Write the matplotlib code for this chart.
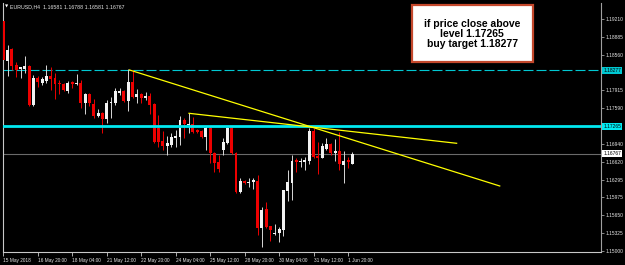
import matplotlib as mpl
mpl.use('Agg')
mpl.rcParams['font.family'] = ['Liberation Sans', 'DejaVu Sans']
import matplotlib.pyplot as plt
import matplotlib.transforms as mtransforms
from matplotlib.patches import Rectangle

# EURUSD H4 candles, 15 May 2018 12:00 -> 1 Jun 2018
opens = [1.19175, 1.18449, 1.18666, 1.18376, 1.18303, 1.18303, 1.18358, 1.17650, 1.18135, 1.18044,
         1.18086, 1.18176, 1.18145, 1.18049, 1.18031, 1.17904, 1.18062, 1.18031, 1.18055, 1.17681,
         1.17844, 1.17674, 1.17456, 1.17505, 1.17396, 1.17681, 1.17692, 1.17862, 1.17904, 1.17728,
         1.18073, 1.17790, 1.17844, 1.17782, 1.17819, 1.17663, 1.17227, 1.16997, 1.16911, 1.16924,
         1.17056, 1.17075, 1.17378, 1.17287, 1.17300, 1.17196, 1.17178, 1.17075, 1.17238, 1.16773,
         1.16610, 1.16833, 1.16955, 1.17238, 1.16773, 1.16076, 1.16271, 1.16229, 1.16258, 1.16276,
         1.15412, 1.15762, 1.15454, 1.15309, 1.15321, 1.15381, 1.16089, 1.16240, 1.16652, 1.16610,
         1.16621, 1.16634, 1.17178, 1.16724, 1.16693, 1.16851, 1.16937, 1.16773, 1.16815, 1.16561,
         1.16652, 1.16581]
highs = [1.19250, 1.18739, 1.18685, 1.18430, 1.18345, 1.18539, 1.18376, 1.18194, 1.18182, 1.18164,
         1.18376, 1.18345, 1.18236, 1.18104, 1.18044, 1.18086, 1.18086, 1.18213, 1.18104, 1.17873,
         1.17862, 1.17753, 1.17577, 1.17528, 1.17741, 1.17790, 1.17953, 1.17964, 1.17922, 1.18298,
         1.18285, 1.17940, 1.17862, 1.17880, 1.17862, 1.17681, 1.17468, 1.17178, 1.17087, 1.17136,
         1.17196, 1.17450, 1.17409, 1.17499, 1.17438, 1.17214, 1.17196, 1.17274, 1.17274, 1.16802,
         1.16742, 1.17046, 1.17256, 1.17256, 1.16802, 1.16320, 1.16289, 1.16320, 1.16320, 1.16379,
         1.15804, 1.15884, 1.15454, 1.15485, 1.15441, 1.16107, 1.16470, 1.16742, 1.16683, 1.16693,
         1.16712, 1.17238, 1.17227, 1.16984, 1.16955, 1.17046, 1.16955, 1.17027, 1.17165, 1.16820,
         1.16712, 1.16788]
lows = [1.18400, 1.18176, 1.18285, 1.18158, 1.18145, 1.18236, 1.17632, 1.17632, 1.17982, 1.18013,
        1.18044, 1.17922, 1.17753, 1.17844, 1.17904, 1.17868, 1.17964, 1.18013, 1.17601, 1.17487,
        1.17632, 1.17419, 1.17438, 1.17147, 1.17318, 1.17409, 1.17650, 1.17831, 1.17710, 1.17541,
        1.17772, 1.17681, 1.17681, 1.17741, 1.17487, 1.16955, 1.16893, 1.16833, 1.16742, 1.16893,
        1.16893, 1.16924, 1.17046, 1.17136, 1.17136, 1.17136, 1.17046, 1.16833, 1.16592, 1.16439,
        1.16439, 1.16742, 1.16937, 1.16761, 1.16047, 1.16047, 1.16216, 1.16167, 1.16125, 1.15290,
        1.15078, 1.15412, 1.15182, 1.15290, 1.15169, 1.15278, 1.15908, 1.15926, 1.16439, 1.16530,
        1.16470, 1.16574, 1.16693, 1.16398, 1.16683, 1.16833, 1.16742, 1.16634, 1.16470, 1.16240,
        1.16512, 1.16581]
closes = [1.18467, 1.18648, 1.18358, 1.18285, 1.18340, 1.18363, 1.17650, 1.18145, 1.18062, 1.18122,
          1.18182, 1.18122, 1.18031, 1.18026, 1.17917, 1.18055, 1.18037, 1.18049, 1.17692, 1.17844,
          1.17692, 1.17450, 1.17505, 1.17396, 1.17692, 1.17710, 1.17909, 1.17904, 1.17728, 1.18073,
          1.17790, 1.17844, 1.17772, 1.17819, 1.17650, 1.16973, 1.16984, 1.16911, 1.16966, 1.17064,
          1.17093, 1.17378, 1.17300, 1.17311, 1.17165, 1.17154, 1.17075, 1.17238, 1.16773, 1.16592,
          1.16488, 1.16973, 1.17238, 1.16773, 1.16076, 1.16276, 1.16229, 1.16258, 1.16289, 1.15412,
          1.15744, 1.15441, 1.15381, 1.15332, 1.15394, 1.16107, 1.16247, 1.16634, 1.16610, 1.16634,
          1.16652, 1.17178, 1.16712, 1.16693, 1.16906, 1.16937, 1.16773, 1.16815, 1.16574, 1.16639,
          1.16610, 1.16767]

time_pos = [0, 8, 16, 24, 32, 40, 48, 56, 64, 72, 80]
time_labels = ['15 May 2018', '16 May 20:00', '18 May 04:00', '21 May 12:00', '22 May 20:00',
               '24 May 04:00', '25 May 12:00', '28 May 20:00', '30 May 04:00', '31 May 12:00',
               '1 Jun 20:00']
price_ticks = [1.19210, 1.18885, 1.18560, 1.18235, 1.17915, 1.17590, 1.17265, 1.16940,
               1.16620, 1.16295, 1.15975, 1.15650, 1.15325, 1.15000]

target_level = 1.18277
break_level = 1.17265
last_price = closes[-1]

# trendlines (bar index, price)
trend1_x = [29.3, 115.2]
trend1_y = [1.18285, 1.16180]
trend2_x = [43.1, 105.2]
trend2_y = [1.17499, 1.16955]

fig = plt.figure(figsize=(6.25, 2.65), dpi=100, facecolor='black')
ax = fig.add_axes([3/625, 13/265, 598/625, 249/265], facecolor='black')

# candles
for i in range(len(opens)):
    o, h, l, c = opens[i], highs[i], lows[i], closes[i]
    up = c >= o
    col = '#f2f2f2' if up else '#ee0000'
    wick = '#d8d8d8' if up else '#ee0000'
    ax.vlines(i, l, h, color=wick, linewidth=0.7, zorder=2)
    ax.bar(i, max(abs(c - o), 0.00004), bottom=min(o, c), width=0.68,
           color=col, edgecolor='none', zorder=3)

# levels
ax.axhline(target_level, color='#00c8d2', linewidth=0.8, linestyle=(0, (9, 2.7)), zorder=1)
ax.axhline(break_level, color='#00e8f0', linewidth=2.0, zorder=4)
ax.axhline(last_price, color='#6a6a6a', linewidth=0.8, zorder=1)

# trendlines
ax.plot(trend1_x, trend1_y, color='#ffff00', linewidth=0.9, zorder=5)
ax.plot(trend2_x, trend2_y, color='#ffff00', linewidth=0.9, zorder=5)

ax.set_xlim(-0.07, 138.7)
ax.set_ylim(1.14982, 1.19501)

ax.spines['top'].set_visible(False)
ax.spines['left'].set_color('#c8c8c8')
ax.spines['bottom'].set_color('#c8c8c8')
ax.spines['right'].set_color('#a0a0a0')
for s in ['left', 'bottom', 'right']:
    ax.spines[s].set_linewidth(0.8)

# tick labels hidden where the highlighted level labels sit
hidden = [1.18235, 1.17265]
ax.yaxis.tick_right()
ax.set_yticks(price_ticks)
ax.set_yticklabels(['' if v in hidden else '%.5f' % v for v in price_ticks])
ax.tick_params(axis='y', direction='out', length=2, width=0.6, color='#a0a0a0',
               labelsize=3.5, labelcolor='#e6e6e6', pad=1.5)
ax.set_xticks(time_pos)
ax.set_xticklabels(time_labels)
for lbl in ax.get_xticklabels():
    lbl.set_horizontalalignment('left')
ax.tick_params(axis='x', direction='out', length=3, width=0.6, color='#c8c8c8',
               labelsize=3.4, labelcolor='#e6e6e6', pad=1.5)

# highlighted price labels on the axis
tr = mtransforms.blended_transform_factory(ax.transAxes, ax.transData)
for val, bg in [(target_level, '#00c8d2'), (break_level, '#00e8f0'), (last_price, '#ffffff')]:
    ax.text(1.004, val, '%.5f' % val, transform=tr, fontsize=3.5, color='black',
            va='center', ha='left', clip_on=False, zorder=10,
            bbox=dict(facecolor=bg, edgecolor='none', pad=0.8))

# title
fig.text(4.5/625, 1 - 6.5/265, '\u25bc', fontsize=3, color='white', va='center', ha='left',
         family='DejaVu Sans')
fig.text(9.5/625, 1 - 6.5/265, 'EURUSD,H4  1.16581 1.16788 1.16581 1.16767', fontsize=3.8,
         color='#e6e6e6', va='center', ha='left')

# annotation box
fig.patches.append(Rectangle((412/625, 1 - 62/265), 120.5/625, 56.5/265, transform=fig.transFigure,
                             facecolor='white', edgecolor='#c4482c', linewidth=1.6, zorder=20))
fig.text(472.2/625, 1 - 34/265, 'if price close above\nlevel 1.17265\nbuy target 1.18277',
         fontsize=7.5, fontweight='bold', color='black', ha='center', va='center',
         linespacing=1.05, zorder=21)

plt.savefig('out.png', dpi=100, facecolor='black')
